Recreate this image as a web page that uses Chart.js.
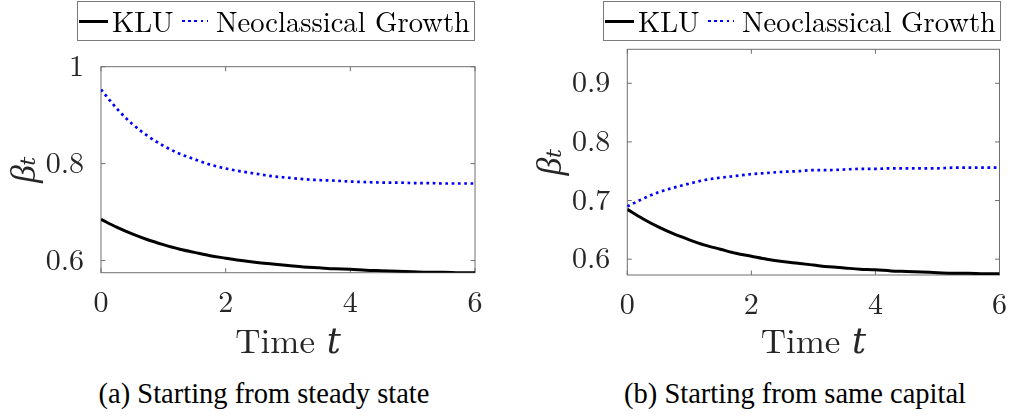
<!DOCTYPE html>
<html>
<head>
<meta charset="utf-8">
<script src="https://cdn.jsdelivr.net/npm/chart.js@4.4.1/dist/chart.umd.min.js"></script>
<style>
html,body{margin:0;padding:0;background:#fff;width:1011px;height:417px;overflow:hidden;position:relative;color:#000;}
.panel{position:absolute;top:0;}
.legend{position:absolute;top:1px;height:40px;width:398px;border:1px solid #7a7a7a;box-sizing:border-box;background:#fff;font-family:'Latin Modern Roman','Liberation Serif',serif;font-size:28.6px;line-height:30px;color:#000;}
.legend span.txt{position:absolute;top:3px;white-space:nowrap;}
.legend .solid{position:absolute;top:17.5px;width:29px;height:3px;background:#000;}
.legend .dots{position:absolute;top:17.5px;width:26px;height:2.6px;background:repeating-linear-gradient(90deg,#0000ff 0,#0000ff 2.6px,transparent 2.6px,transparent 6.2px);}
.caption{position:absolute;top:380px;font-family:'Liberation Serif','Tinos','Times New Roman',serif;font-size:28.5px;line-height:28.5px;white-space:nowrap;transform:translateX(-50%);color:#000;}
</style>
</head>
<body>
<div class="panel" style="left:0px;"><canvas id="cA" width="490" height="370"></canvas></div>
<div class="panel" style="left:520px;"><canvas id="cB" width="491" height="370"></canvas></div>
<div class="legend" id="legA" style="left:77px;"></div>
<div class="legend" id="legB" style="left:603px;"></div>
<div class="caption" style="left:264px;">(a) Starting from steady state</div>
<div class="caption" style="left:795px;">(b) Starting from same capital</div>
<script>
// ---- data ----
const seriesNames = ['KLU', 'Neoclassical Growth'];
const timeT = [0,0.25,0.5,0.75,1,1.25,1.5,1.75,2,2.25,2.5,2.75,3,3.25,3.5,3.75,4,4.25,4.5,4.75,5,5.25,5.5,5.75,6];
// (a) Starting from steady state
const kluA = [0.685,0.669,0.655,0.643,0.633,0.624,0.617,0.610,0.605,0.600,0.596,0.593,0.590,0.587,0.585,0.583,0.582,0.580,0.579,0.578,0.577,0.576,0.576,0.575,0.575];
const neoA = [0.953,0.914,0.882,0.857,0.837,0.821,0.809,0.798,0.790,0.784,0.779,0.774,0.771,0.768,0.766,0.765,0.763,0.762,0.761,0.761,0.760,0.760,0.759,0.759,0.759];
// (b) Starting from same capital
const kluB = [0.685,0.669,0.655,0.643,0.633,0.624,0.617,0.610,0.605,0.600,0.596,0.593,0.590,0.587,0.585,0.583,0.582,0.580,0.579,0.578,0.577,0.576,0.576,0.575,0.575];
const neoB = [0.690,0.703,0.714,0.722,0.729,0.735,0.739,0.742,0.745,0.747,0.749,0.750,0.752,0.752,0.753,0.754,0.754,0.755,0.755,0.755,0.755,0.756,0.756,0.756,0.756];
// ticks
const xTicks = [0, 2, 4, 6];
const xTickLabels = ['0', '2', '4', '6'];
const yTicksA = [0.6, 0.8, 1];
const yTickLabelsA = ['0.6', '0.8', '1'];
const yTicksB = [0.6, 0.7, 0.8, 0.9];
const yTickLabelsB = ['0.6', '0.7', '0.8', '0.9'];
const xTitle = 'Time 𝑡';
const yTitle = 'βₜ';

const FONT = "'Latin Modern Roman', 'DejaVu Serif', serif";
const YFONT = "'Liberation Serif', 'DejaVu Serif', serif";
const INK = '#262626';
const seriesColors = ['#000000', '#0000ff'];

const framePlugin = {
  id: 'frame',
  beforeDatasetsDraw(chart) {
    const {ctx, chartArea: a, scales} = chart;
    ctx.save();
    ctx.strokeStyle = '#6e6e6e';
    ctx.lineWidth = 1;
    ctx.strokeRect(a.left, a.top, a.right - a.left, a.bottom - a.top);
    const L = 4.5;
    ctx.beginPath();
    scales.x.ticks.forEach(t => {
      const px = scales.x.getPixelForValue(t.value);
      ctx.moveTo(px, a.bottom); ctx.lineTo(px, a.bottom - L);
      ctx.moveTo(px, a.top); ctx.lineTo(px, a.top + L);
    });
    scales.y.ticks.forEach(t => {
      const py = scales.y.getPixelForValue(t.value);
      ctx.moveTo(a.left, py); ctx.lineTo(a.left + L, py);
      ctx.moveTo(a.right, py); ctx.lineTo(a.right - L, py);
    });
    ctx.stroke();
    ctx.restore();
  }
};

function makeChart(id, kluData, neoData, cfg) {
  const points = (arr) => timeT.map((t, i) => ({x: t, y: arr[i]}));
  return new Chart(document.getElementById(id), {
    type: 'line',
    data: {
      datasets: [
        {label: seriesNames[0], data: points(kluData), borderColor: seriesColors[0], borderWidth: 3,
         pointRadius: 0, cubicInterpolationMode: 'monotone', fill: false},
        {label: seriesNames[1], data: points(neoData), borderColor: seriesColors[1], borderWidth: 2.7,
         borderDash: [2.7, 3.6], borderCapStyle: 'butt', pointRadius: 0, cubicInterpolationMode: 'monotone', fill: false}
      ]
    },
    options: {
      responsive: false,
      animation: false,
      devicePixelRatio: 1,
      layout: {padding: cfg.padding},
      plugins: {legend: {display: false}, tooltip: {enabled: false}},
      scales: {
        x: {
          type: 'linear', min: 0, max: 6,
          grid: {display: false}, border: {display: false},
          afterBuildTicks: s => { s.ticks = xTicks.map(v => ({value: v})); },
          afterFit: s => { s.height = cfg.xHeight; },
          ticks: {padding: 4, color: INK, font: {family: FONT, size: 30},
                  callback: (v) => xTickLabels[xTicks.indexOf(v)]},
          title: {display: true, text: xTitle, color: INK, font: {family: FONT, size: 35}, padding: {top: 0, bottom: 0}}
        },
        y: {
          type: 'linear', min: cfg.yMin, max: cfg.yMax,
          grid: {display: false}, border: {display: false},
          afterBuildTicks: s => { s.ticks = cfg.yTicks.map(v => ({value: v})); },
          afterFit: s => { s.width = cfg.yWidth; },
          ticks: {padding: 9, color: INK, font: {family: FONT, size: 30},
                  callback: (v) => cfg.yLabels[cfg.yTicks.indexOf(v)]},
          title: {display: true, text: yTitle, color: INK, font: {family: YFONT, size: 36, style: 'italic'}, padding: {top: cfg.yTitlePad, bottom: 0}}
        }
      }
    },
    plugins: [framePlugin]
  });
}

const chartA = makeChart('cA', kluA, neoA, {
  padding: {left: 0, top: 66.7, right: 15, bottom: 6.4},
  xHeight: 90.9, yWidth: 101, yMin: 0.575, yMax: 1,
  yTicks: yTicksA, yLabels: yTickLabelsA, yTitlePad: 4
});
const chartB = makeChart('cB', kluB, neoB, {
  padding: {left: 0, top: 49.3, right: 10, bottom: 6.4},
  xHeight: 88.6, yWidth: 107.3, yMin: 0.573, yMax: 0.958,
  yTicks: yTicksB, yLabels: yTickLabelsB, yTitlePad: 10
});

function buildLegend(elId, chart) {
  const el = document.getElementById(elId);
  const ds = chart.data.datasets;
  const layout = [{sample: 1, text: 34}, {sample: 104, text: 138}];
  ds.forEach((d, i) => {
    const s = document.createElement('div');
    s.className = d.borderDash ? 'dots' : 'solid';
    s.style.left = layout[i].sample + 'px';
    el.appendChild(s);
    const t = document.createElement('span');
    t.className = 'txt';
    t.style.left = layout[i].text + 'px';
    t.textContent = d.label;
    el.appendChild(t);
  });
}
buildLegend('legA', chartA);
buildLegend('legB', chartB);

const redraw = () => { chartA.update('none'); chartB.update('none'); };
document.fonts.ready.then(redraw);
</script>
</body>
</html>
